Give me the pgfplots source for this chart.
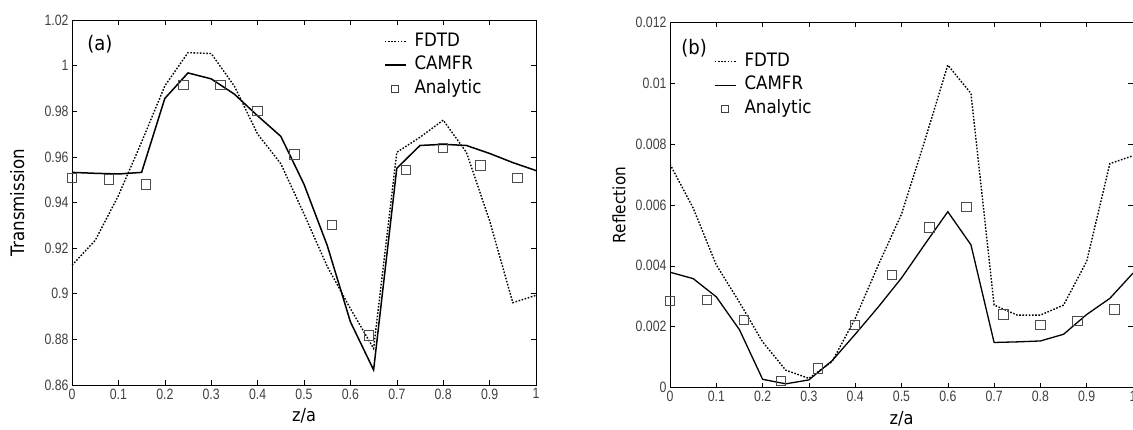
\documentclass[border=0pt]{standalone}
\usepackage{fontspec}
\setmainfont{DejaVu Sans}[FakeStretch=0.9]
\newfontfamily\tickfont{Liberation Sans}[FakeStretch=0.82]
\usepackage{pgfplots}
\pgfplotsset{compat=1.18}

\pgfplotsset{
  myaxis/.style={
    scale only axis,
    height=365pt,
    xmin=0, xmax=1,
    xtick={0,0.1,0.2,0.3,0.4,0.5,0.6,0.7,0.8,0.9,1},
    xticklabels={0,0.1,0.2,0.3,0.4,0.5,0.6,0.7,0.8,0.9,1},
    scaled x ticks=false, scaled y ticks=false,
    tick align=inside,
    major tick length=5pt,
    tick style={black, line width=0.6pt},
    axis line style={line width=0.8pt},
    ticklabel style={font=\tickfont\fontsize{15}{15}\selectfont, text=black!75},
    xlabel={\fontsize{18}{18}\selectfont z/a},
    xlabel style={at={(axis description cs:0.5,-0.085)}, anchor=center},
    legend style={draw=none, fill=none, inner sep=0pt,
      font=\fontsize{18.5}{18.5}\selectfont, row sep=6pt,
      nodes={inner xsep=8pt, inner ysep=0pt, text height=13.5pt, text depth=4pt}},
    legend cell align=left,
    legend image code/.code={\draw[#1] (0pt,0pt) -- (21pt,0pt);},
  },
  fdtd/.style={black, line width=1.4pt, dash pattern=on 1.6pt off 1.6pt},
  camfr/.style={black, line width=1.5pt},
  anal/.style={only marks, mark=square, mark size=4.75pt, mark options={draw=black!70, line width=1pt, solid}},
  analleg/.style={only marks, mark=square, mark size=3.5pt, mark options={draw=black!75, line width=0.9pt, solid},
    legend image code/.code={\draw[##1] plot coordinates {(10.5pt,0pt)};}},
}

\pgfplotstableread{
x fdtd camfr
0    0.9125 0.9532
0.05 0.9234 0.9528
0.1  0.9430 0.9525
0.15 0.9665 0.9532
0.2  0.9911 0.9856
0.25 1.0057 0.9968
0.3  1.0053 0.9942
0.35 0.9910 0.9875
0.4  0.9700 0.9780
0.45 0.9570 0.9690
0.5  0.9350 0.9480
0.55 0.9120 0.9212
0.6  0.8935 0.8877
0.65 0.8760 0.8666
0.7  0.9620 0.9550
0.75 0.9686 0.9650
0.8  0.9761 0.9655
0.85 0.9620 0.9650
0.9  0.9320 0.9615
0.95 0.8961 0.9575
1.0  0.8993 0.9540
}\transtab

\pgfplotstableread{
x y
0    0.9508
0.08 0.9500
0.16 0.9480
0.24 0.9916
0.32 0.9916
0.40 0.9800
0.48 0.9611
0.56 0.9302
0.64 0.8816
0.72 0.9543
0.80 0.9639
0.88 0.9563
0.96 0.9508
}\transanal

\pgfplotstableread{
x fdtd camfr
0    0.00734 0.00379
0.05 0.00590 0.00358
0.1  0.00403 0.00298
0.15 0.00280 0.00190
0.2  0.00150 0.00027
0.25 0.00057 0.00012
0.3  0.00030 0.00025
0.35 0.00085 0.00088
0.4  0.00227 0.00175
0.45 0.00403 0.00265
0.5  0.00570 0.00360
0.55 0.00810 0.00470
0.6  0.01060 0.00578
0.65 0.00967 0.00469
0.7  0.00271 0.00148
0.75 0.00238 0.00150
0.8  0.00238 0.00153
0.85 0.00271 0.00175
0.9  0.00415 0.00240
0.95 0.00736 0.00293
1.0  0.00762 0.00376
}\refltab

\pgfplotstableread{
x y
0    0.00285
0.08 0.00288
0.16 0.00222
0.24 0.00021
0.32 0.00063
0.40 0.00205
0.48 0.00370
0.56 0.00526
0.64 0.00593
0.72 0.00240
0.80 0.00205
0.88 0.00219
0.96 0.00257
}\reflanal

\begin{document}
\begin{tikzpicture}
\useasboundingbox (0pt,0pt) rectangle (1133pt,429pt);

\begin{axis}[myaxis, at={(72pt,44pt)}, anchor=south west, width=464pt,
  ymin=0.86, ymax=1.02,
  ytick={0.86,0.88,0.9,0.92,0.94,0.96,0.98,1,1.02},
  yticklabels={0.86,0.88,0.9,0.92,0.94,0.96,0.98,1,1.02},
  ylabel={\fontsize{18.5}{18.5}\selectfont Transmission},
  ylabel style={at={(axis description cs:-0.118,0.5)}, anchor=center},
  legend style={at={(axis description cs:0.672,0.965)}, anchor=north west}]
\addplot[fdtd] table[x=x, y=fdtd] {\transtab};
\addlegendentry{FDTD}
\addplot[camfr] table[x=x, y=camfr] {\transtab};
\addlegendentry{CAMFR}
\addplot[anal, forget plot] table[x=x, y=y] {\transanal};
\addlegendimage{analleg}
\addlegendentry{Analytic}
\node[font=\fontsize{20}{20}\selectfont] at (axis description cs:0.06,0.934) {(a)};
\end{axis}

\begin{axis}[myaxis, at={(670pt,41.5pt)}, anchor=south west, width=463pt,
  ymin=0, ymax=0.012,
  ytick={0,0.002,0.004,0.006,0.008,0.01,0.012},
  yticklabels={0,0.002,0.004,0.006,0.008,0.01,0.012},
  ylabel={\fontsize{17}{17}\selectfont Reflection},
  ylabel style={at={(axis description cs:-0.110,0.5)}, anchor=center},
  legend style={at={(axis description cs:0.095,0.917)}, anchor=north west}]
\addplot[fdtd] table[x=x, y=fdtd] {\refltab};
\addlegendentry{FDTD}
\addplot[camfr, line width=1.3pt] table[x=x, y=camfr] {\refltab};
\addlegendentry{CAMFR}
\addplot[anal, forget plot] table[x=x, y=y] {\reflanal};
\addlegendimage{analleg}
\addlegendentry{Analytic}
\node[font=\fontsize{20}{20}\selectfont] at (axis description cs:0.052,0.93) {(b)};
\end{axis}
\end{tikzpicture}
\end{document}
